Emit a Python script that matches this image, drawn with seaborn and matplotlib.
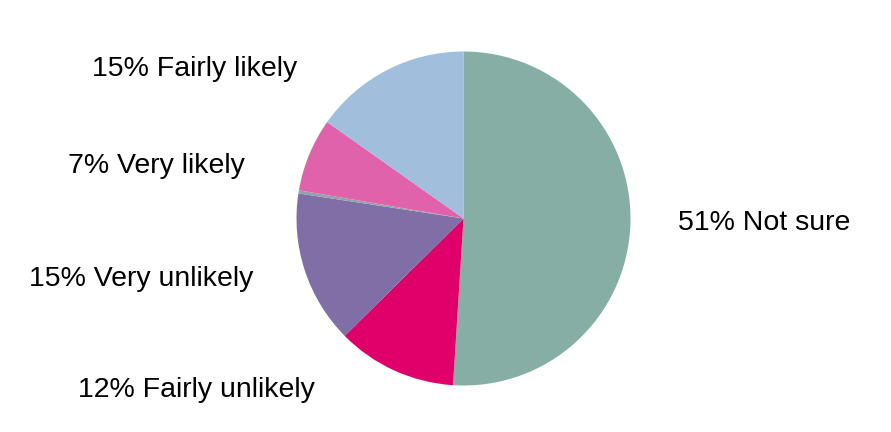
import matplotlib
matplotlib.use("Agg")
import matplotlib.pyplot as plt
import seaborn as sns

# slice shares (clockwise from 12 o'clock)
categories = ["Not sure", "Fairly unlikely", "Very unlikely", "No answer", "Very likely", "Fairly likely"]
shares = [51.0, 11.6, 14.8, 0.3, 7.1, 15.2]
shown_pct = [51, 12, 15, None, 7, 15]
colors = ["#87aea4", "#e0006a", "#7f6fa6", "#8fa3a8", "#e062aa", "#a1bedc"]

# label anchors (left, baseline) in figure pixels, y from the top
label_pos = {
    "Not sure": (678, 230),
    "Fairly unlikely": (78, 397),
    "Very unlikely": (29, 286),
    "Very likely": (68, 173),
    "Fairly likely": (92, 76),
}

sns.set_style("white")
plt.rcParams["font.family"] = ["Liberation Sans", "DejaVu Sans"]

W, H = 891, 432
fig = plt.figure(figsize=(W / 100, H / 100), dpi=100)
ax = fig.add_axes([0, 0, 1, 1])

ax.pie(shares, colors=colors, startangle=90, counterclock=False,
       center=(463.5, H - 218.5), radius=167, frame=True,
       wedgeprops=dict(linewidth=0))
ax.set_xlim(0, W)
ax.set_ylim(0, H)
ax.set_aspect("equal")
ax.axis("off")

for name, pct in zip(categories, shown_pct):
    if pct is None:
        continue
    x, y = label_pos[name]
    ax.text(x, H - y, f"{pct}% {name}", ha="left", va="baseline",
            fontsize=20.5, color="black")

fig.savefig("out.png", dpi=100, facecolor="white")
